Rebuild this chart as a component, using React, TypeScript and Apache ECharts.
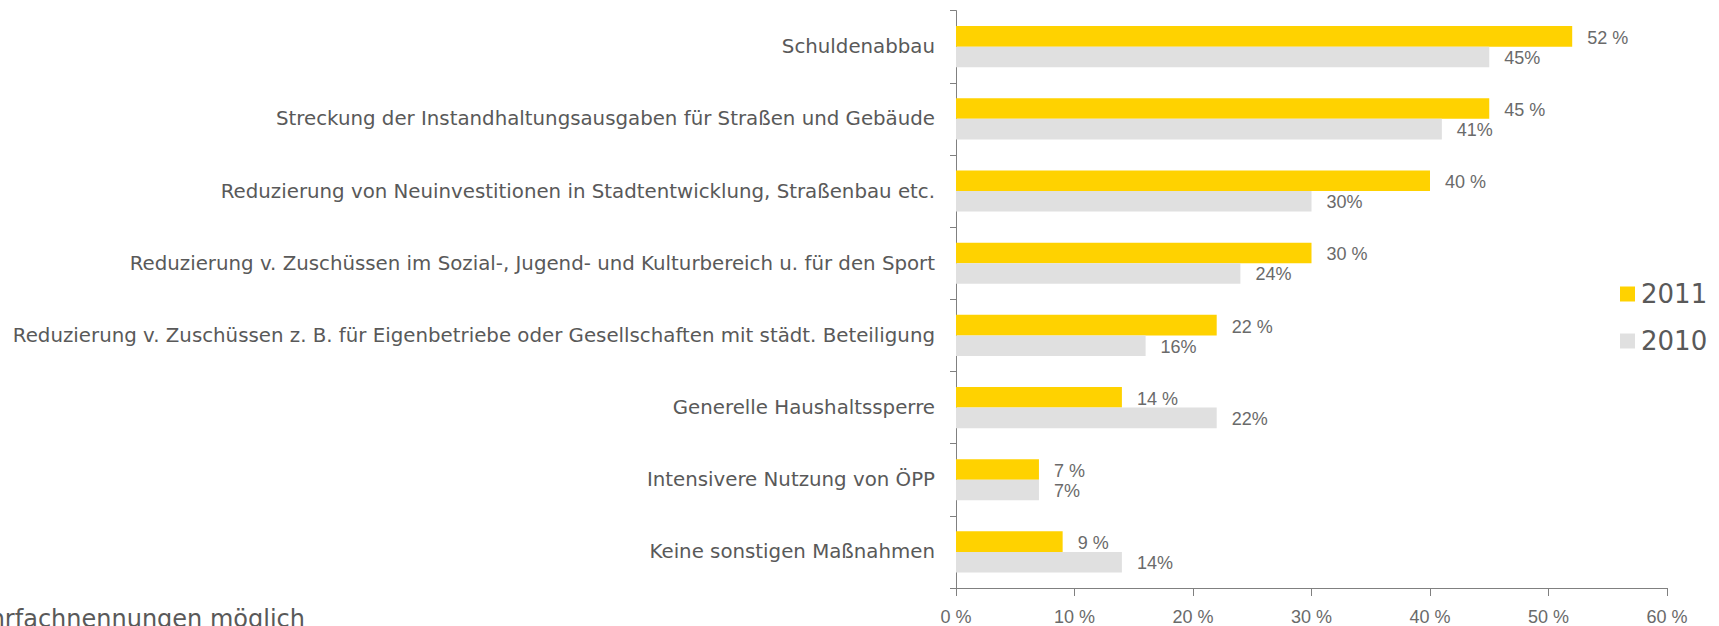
import React, { useEffect, useRef } from "react";
import * as echarts from "echarts";

const categories = [
  "Schuldenabbau",
  "Streckung der Instandhaltungsausgaben für Straßen und Gebäude",
  "Reduzierung von Neuinvestitionen in Stadtentwicklung, Straßenbau etc.",
  "Reduzierung v. Zuschüssen im Sozial-, Jugend- und Kulturbereich u. für den Sport",
  "Reduzierung v. Zuschüssen z. B. für Eigenbetriebe oder Gesellschaften mit städt. Beteiligung",
  "Generelle Haushaltssperre",
  "Intensivere Nutzung von ÖPP",
  "Keine sonstigen Maßnahmen",
];
const values2011 = [52, 45, 40, 30, 22, 14, 7, 9];
const values2010 = [45, 41, 30, 24, 16, 22, 7, 14];
const seriesNames = ["2011", "2010"];
const xTicks = { min: 0, max: 60, interval: 10 };
const footnote = "Mehrfachnennungen möglich";

const YELLOW = "#FFD200";
const GREY = "#E0E0E0";
const AXIS = "#808080";
const TEXT = "#595959";
const VALTEXT = "#6a6a6a";

export default function App() {
  const ref = useRef<HTMLDivElement>(null);
  useEffect(() => {
    if (!ref.current) return;
    const chart = echarts.init(ref.current, null, { renderer: "svg" });
    const valueFont = { fontFamily: "Liberation Sans, Arial, sans-serif", fontSize: 18, color: VALTEXT };
    chart.setOption({
      animation: false,
      backgroundColor: "#ffffff",
      grid: { left: 956, right: 52, top: 10.6, bottom: 37, containLabel: false },
      legend: {
        orient: "vertical",
        left: 1615,
        top: 276,
        itemWidth: 15,
        itemHeight: 15,
        itemGap: 21,
        icon: "rect",
        textStyle: { fontFamily: "DejaVu Sans", fontSize: 26, color: TEXT, padding: [0, 0, 0, 1] },
        data: seriesNames,
      },
      xAxis: {
        type: "value",
        min: xTicks.min,
        max: xTicks.max,
        interval: xTicks.interval,
        splitLine: { show: false },
        axisLine: { show: true, lineStyle: { color: AXIS, width: 1 } },
        axisTick: { show: true, length: 8, lineStyle: { color: AXIS } },
        axisLabel: { ...valueFont, margin: 20, formatter: "{value} %" },
      },
      yAxis: {
        type: "category",
        inverse: true,
        data: categories,
        axisLine: { show: true, lineStyle: { color: AXIS, width: 1 } },
        axisTick: { show: true, length: 6, lineStyle: { color: AXIS } },
        axisLabel: { fontFamily: "DejaVu Sans", fontSize: 19.8, color: TEXT, margin: 21 },
      },
      series: [
        {
          name: seriesNames[0],
          type: "bar",
          data: values2011,
          itemStyle: { color: YELLOW },
          barGap: "0%",
          barCategoryGap: "43%",
          label: { show: true, position: "right", distance: 15, offset: [0, 1.5], formatter: "{c} %", ...valueFont },
        },
        {
          name: seriesNames[1],
          type: "bar",
          data: values2010,
          itemStyle: { color: GREY },
          barGap: "0%",
          barCategoryGap: "43%",
          label: { show: true, position: "right", distance: 15, offset: [0, 1], formatter: "{c}%", ...valueFont },
        },
      ],
      graphic: [
        {
          type: "text",
          x: 305,
          y: 618.5,
          style: {
            text: footnote,
            align: "right",
            verticalAlign: "middle",
            fontFamily: "DejaVu Sans",
            fontSize: 24,
            fill: TEXT,
          },
        },
      ],
    });
    return () => chart.dispose();
  }, []);
  return (
    <div
      ref={ref}
      style={{ position: "fixed", left: 0, top: 0, width: 1719, height: 626, background: "#fff" }}
    />
  );
}
